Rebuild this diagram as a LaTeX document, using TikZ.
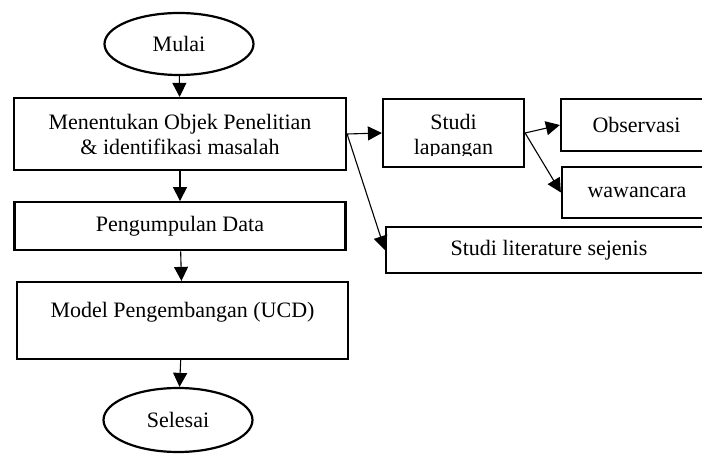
\documentclass[tikz,border=0pt]{standalone}
\usepackage{fontspec}
\setmainfont{Liberation Serif}
\usetikzlibrary{arrows.meta,shapes.geometric,positioning}

\begin{document}
\begin{tikzpicture}[x=1pt,y=-1pt,node distance=30pt,
      font=\fontsize{22}{25}\selectfont,
      awal/.style = {draw, ellipse, line width=2.2pt, minimum width=149pt, minimum height=62pt, inner sep=0pt},
      kotak/.style = {draw, rectangle, line width=2.2pt, align=center, inner sep=0pt},
      panah/.style = {-{Triangle[length=14pt,width=14pt]}, line width=1.1pt}]
      \clip (0,0) rectangle (702,454);

      % alur utama
      \node[awal] at (179,44) (1){Mulai};
      \node[kotak, minimum width=332pt, minimum height=72pt] at (180,134) (2){Menentukan Objek Penelitian\\\& identifikasi masalah};
      \node[kotak, minimum width=331pt, minimum height=48pt, below=of 2] (3){Pengumpulan Data};
      \node[kotak, minimum width=331pt, minimum height=77pt, text depth=22pt] at (182.5,320.5) (4){Model Pengembangan (UCD)};
      \node[awal, minimum height=64pt] at (178,420) (5){Selesai};

      % cabang kanan
      \node[kotak, minimum width=141pt, minimum height=68pt] at (453.5,133) (6){};
      \begin{scope}
        \clip (6.north west) rectangle (524,156);
        \node[align=center, inner sep=0pt] at (453.5,136.5) (6a){Studi\\lapangan};
      \end{scope}
      \node[kotak, minimum width=151pt, minimum height=52pt] at (636.5,125) (7){Observasi};
      \node[kotak, minimum width=150pt, minimum height=51pt] at (637,192.5) (8){wawancara};
      \node[kotak, minimum width=326pt, minimum height=46pt] at (549,250) (9){Studi literature sejenis};

      \path[panah]
      (1) edge (2)
      (2) edge (3)
      (3) edge (4)
      (4) edge (5)
      (2.east) edge (6.west)
      (2.east) edge (9.west)
      (6.east) edge (7.west)
      (6.east) edge (8.west)
      ;

    \end{tikzpicture}
\end{document}
